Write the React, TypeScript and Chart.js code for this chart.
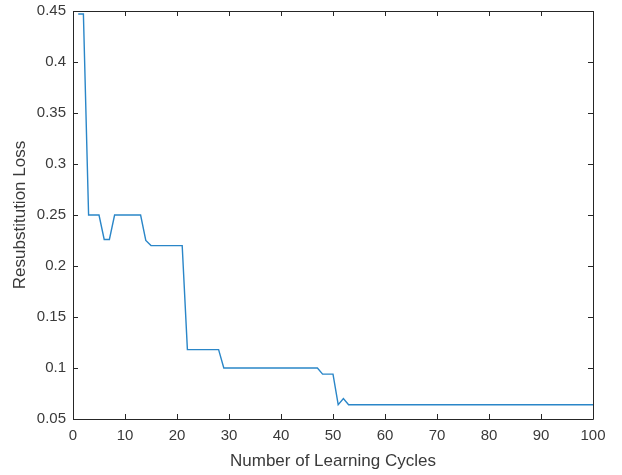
import React, { useEffect, useRef } from "react";
import { Chart, registerables } from "chart.js";

Chart.register(...registerables);

const cycles: number[] = [
  1, 2, 3, 4, 5, 6, 7, 8, 9, 10, 11, 12, 13, 14, 15, 16, 17, 18, 19, 20,
  21, 22, 23, 24, 25, 26, 27, 28, 29, 30, 31, 32, 33, 34, 35, 36, 37, 38, 39, 40,
  41, 42, 43, 44, 45, 46, 47, 48, 49, 50, 51, 52, 53, 54, 55, 56, 57, 58, 59, 60,
  61, 62, 63, 64, 65, 66, 67, 68, 69, 70, 71, 72, 73, 74, 75, 76, 77, 78, 79, 80,
  81, 82, 83, 84, 85, 86, 87, 88, 89, 90, 91, 92, 93, 94, 95, 96, 97, 98, 99, 100,
];

const resubLoss: number[] = [
  0.447, 0.447, 0.25, 0.25, 0.25, 0.226, 0.226, 0.25, 0.25, 0.25,
  0.25, 0.25, 0.25, 0.225, 0.22, 0.22, 0.22, 0.22, 0.22, 0.22,
  0.22, 0.118, 0.118, 0.118, 0.118, 0.118, 0.118, 0.118, 0.1, 0.1,
  0.1, 0.1, 0.1, 0.1, 0.1, 0.1, 0.1, 0.1, 0.1, 0.1,
  0.1, 0.1, 0.1, 0.1, 0.1, 0.1, 0.1, 0.094, 0.094, 0.094,
  0.064, 0.07, 0.064, 0.064, 0.064, 0.064, 0.064, 0.064, 0.064, 0.064,
  0.064, 0.064, 0.064, 0.064, 0.064, 0.064, 0.064, 0.064, 0.064, 0.064,
  0.064, 0.064, 0.064, 0.064, 0.064, 0.064, 0.064, 0.064, 0.064, 0.064,
  0.064, 0.064, 0.064, 0.064, 0.064, 0.064, 0.064, 0.064, 0.064, 0.064,
  0.064, 0.064, 0.064, 0.064, 0.064, 0.064, 0.064, 0.064, 0.064, 0.064,
];

const xTicks: number[] = [0, 10, 20, 30, 40, 50, 60, 70, 80, 90, 100];
const yTicks: number[] = [0.05, 0.1, 0.15, 0.2, 0.25, 0.3, 0.35, 0.4, 0.45];

const xTitle = "Number of Learning Cycles";
const yTitle = "Resubstitution Loss";

const AXIS_COLOR = "#262626";
const TEXT_COLOR = "#3a3a3a";
const LINE_COLOR = "#2a86c8";
const FONT = "'Liberation Sans', Arial, Helvetica, sans-serif";

const boxPlugin = {
  id: "matlabBox",
  afterDraw(chart: any) {
    const { ctx, chartArea } = chart;
    const { left, right, top, bottom } = chartArea;
    const xs = chart.scales.x;
    const ys = chart.scales.y;
    const len = 5;
    ctx.save();
    ctx.strokeStyle = AXIS_COLOR;
    ctx.lineWidth = 1;
    ctx.beginPath();
    ctx.rect(Math.round(left) + 0.5, Math.round(top) + 0.5, Math.round(right - left), Math.round(bottom - top));
    for (const v of xTicks) {
      const px = Math.round(xs.getPixelForValue(v)) + 0.5;
      ctx.moveTo(px, bottom);
      ctx.lineTo(px, bottom - len);
      ctx.moveTo(px, top);
      ctx.lineTo(px, top + len);
    }
    for (const v of yTicks) {
      const py = Math.round(ys.getPixelForValue(v)) + 0.5;
      ctx.moveTo(left, py);
      ctx.lineTo(left + len, py);
      ctx.moveTo(right, py);
      ctx.lineTo(right - len, py);
    }
    ctx.stroke();
    ctx.restore();
  },
};

export default function App() {
  const canvasRef = useRef<HTMLCanvasElement | null>(null);

  useEffect(() => {
    if (!canvasRef.current) return;
    const chart = new Chart(canvasRef.current, {
      type: "line",
      data: {
        datasets: [
          {
            data: cycles.map((c, i) => ({ x: c, y: resubLoss[i] })),
            borderColor: LINE_COLOR,
            borderWidth: 1.4,
            pointRadius: 0,
            fill: false,
            tension: 0,
          },
        ],
      },
      options: {
        animation: false,
        responsive: true,
        maintainAspectRatio: false,
        layout: { padding: { left: 0, top: 11, right: 29, bottom: 0 } },
        plugins: {
          legend: { display: false },
          tooltip: { enabled: false },
        },
        scales: {
          x: {
            type: "linear",
            min: 0,
            max: 100,
            afterBuildTicks: (scale: any) => {
              scale.ticks = xTicks.map((v) => ({ value: v }));
            },
            afterFit: (scale: any) => {
              scale.height = 56;
              scale.paddingLeft = 0;
              scale.paddingRight = 0;
            },
            grid: { display: false, drawTicks: false },
            border: { display: false },
            ticks: {
              padding: 8,
              color: TEXT_COLOR,
              font: { family: FONT, size: 15 },
              maxRotation: 0,
              autoSkip: false,
            },
            title: {
              display: true,
              text: xTitle,
              color: TEXT_COLOR,
              font: { family: FONT, size: 17 },
              padding: { top: 0, bottom: 3 },
            },
          },
          y: {
            type: "linear",
            min: 0.05,
            max: 0.45,
            afterBuildTicks: (scale: any) => {
              scale.ticks = yTicks.map((v) => ({ value: v }));
            },
            afterFit: (scale: any) => {
              scale.width = 73;
              scale.paddingTop = 0;
              scale.paddingBottom = 0;
            },
            grid: { display: false, drawTicks: false },
            border: { display: false },
            ticks: {
              padding: 7,
              color: TEXT_COLOR,
              font: { family: FONT, size: 15 },
              autoSkip: false,
              callback: (v: any) => String(parseFloat(Number(v).toFixed(2))),
            },
            title: {
              display: true,
              text: yTitle,
              color: TEXT_COLOR,
              font: { family: FONT, size: 17 },
              padding: { top: 10, bottom: 0 },
            },
          },
        },
      },
      plugins: [boxPlugin],
    });
    return () => chart.destroy();
  }, []);

  return (
    <div style={{ position: "fixed", left: 0, top: 0, width: 622, height: 475, background: "#fff" }}>
      <canvas ref={canvasRef} />
    </div>
  );
}
